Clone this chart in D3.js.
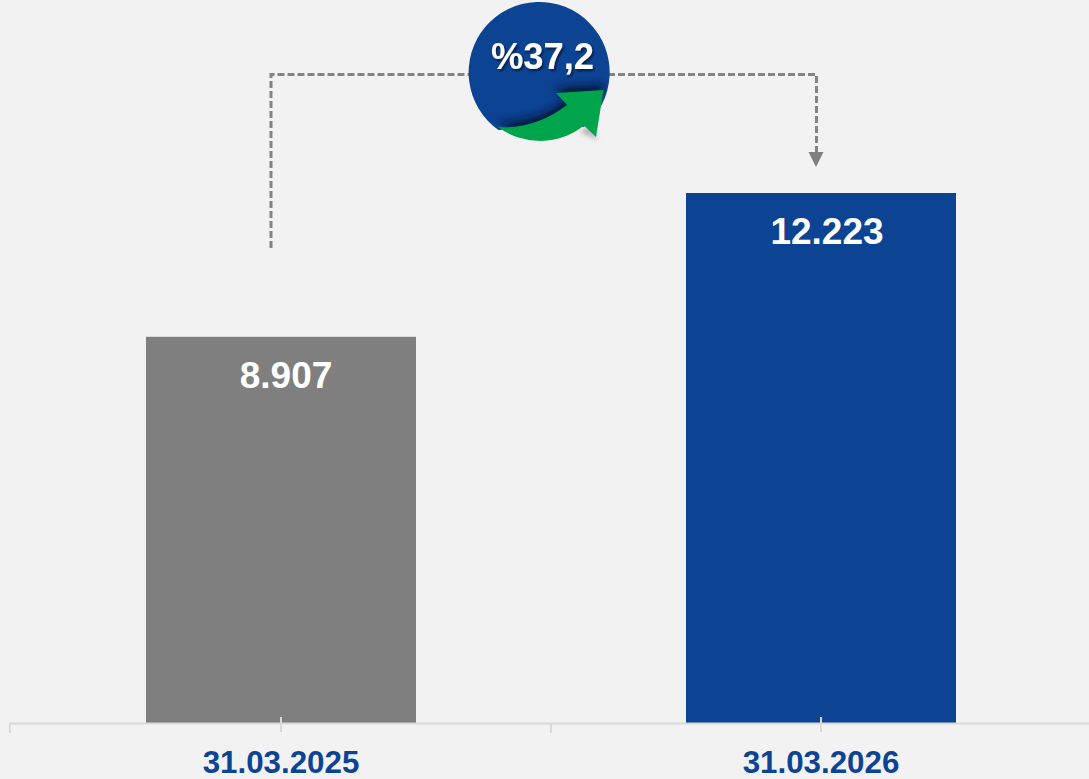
<!DOCTYPE html>
<html><head><meta charset="utf-8">
<style>html,body{margin:0;padding:0;background:#f2f2f2;overflow:hidden}svg{display:block}text{font-family:"Liberation Sans",Arial,sans-serif;font-weight:700}</style>
<script src="https://cdn.jsdelivr.net/npm/d3@7"></script>
</head><body><svg id="c" width="1089" height="779"></svg>
<script>
const categories = ["31.03.2025", "31.03.2026"];
const values = [8907, 12223];
const valueLabels = ["8.907", "12.223"];
const barColors = ["#7f7f7f", "#0c4393"];
const growthLabel = "%37,2";

const svg = d3.select("#c");
const axisY = 723;
const x = d3.scaleBand().domain(categories).range([11, 1091]).paddingInner(0.5).paddingOuter(0.25);
const y = d3.scaleLinear().domain([0, 12223]).range([axisY, 193]);
const defs = svg.append("defs");
defs.append("filter").attr("id","blur").attr("x","-30%").attr("y","-30%").attr("width","160%").attr("height","160%")
  .append("feGaussianBlur").attr("stdDeviation",5);
defs.append("filter").attr("id","soft").attr("x","-30%").attr("y","-30%").attr("width","160%").attr("height","160%")
  .append("feGaussianBlur").attr("stdDeviation",2.5);
defs.append("filter").attr("id","tshadow").attr("x","-10%").attr("y","-10%").attr("width","120%").attr("height","130%")
  .append("feDropShadow").attr("dx",1.5).attr("dy",2).attr("stdDeviation",1).attr("flood-color","#000").attr("flood-opacity",0.55);
defs.append("clipPath").attr("id","circ").append("circle").attr("cx",539).attr("cy",72.5).attr("r",70.5);

// bars
svg.selectAll("rect.bar").data(categories).join("rect").attr("class","bar")
  .attr("x",d=>x(d)).attr("width",x.bandwidth())
  .attr("y",(d,i)=>y(values[i])).attr("height",(d,i)=>axisY-y(values[i]))
  .attr("fill",(d,i)=>barColors[i]);

// axis
const ax = svg.append("g").attr("fill","none").attr("stroke","#d9d9d9").attr("stroke-width",2);
ax.append("line").attr("x1",10).attr("x2",1089).attr("y1",axisY+.5).attr("y2",axisY+.5);
[10, 551].forEach(v=>ax.append("line").attr("x1",v).attr("x2",v).attr("y1",axisY).attr("y2",733));
categories.forEach(c=>{const m=x(c)+x.bandwidth()/2;
  ax.append("line").attr("x1",m).attr("x2",m).attr("y1",717).attr("y2",732);});

// labels
svg.selectAll("text.val").data(valueLabels).join("text").attr("class","val")
  .attr("x",(d,i)=>x(categories[i])+x.bandwidth()/2+ (i?6:5)).attr("y",(d,i)=>y(values[i])+51)
  .attr("text-anchor","middle").attr("font-size",37).attr("fill","#fff").text(d=>d);
svg.selectAll("text.cat").data(categories).join("text").attr("class","cat")
  .attr("x",d=>x(d)+x.bandwidth()/2).attr("y",773)
  .attr("text-anchor","middle").attr("font-size",31.3).attr("fill","#0c4393").text(d=>d);

// connector
svg.append("path").attr("d","M271,248V74.5H470M608,74.5H816.5V154").attr("fill","none")
  .attr("stroke","#848484").attr("stroke-width",3).attr("stroke-dasharray","7 3");
svg.append("path").attr("d","M808.5,152H823.5L816,167Z").attr("fill","#7f7f7f");

// badge
const arrow = "M498,127C520,129 545,122 567,105L556,93L603.5,90L596,137L584,125.5A70.5,70.5 0 0 1 498,127Z";
svg.append("path").attr("d","M590,124L598,140L580,132Z").attr("fill","#000").attr("opacity",0.25).attr("filter","url(#soft)");
svg.append("path").attr("d","M498.5,130A70.5,70.5 0 1 1 584,126.8Z").attr("fill","#0c4393");
svg.append("path").attr("d",arrow).attr("fill","#04122e").attr("opacity",0.95)
  .attr("transform","translate(0,-5)").attr("filter","url(#blur)").attr("clip-path","url(#circ)");
svg.append("path").attr("d",arrow).attr("fill","#00a44a");
svg.append("text").attr("x",542.5).attr("y",69).attr("text-anchor","middle").attr("font-size",36.4)
  .attr("fill","#fff").attr("filter","url(#tshadow)").text(growthLabel);
</script></body></html>
